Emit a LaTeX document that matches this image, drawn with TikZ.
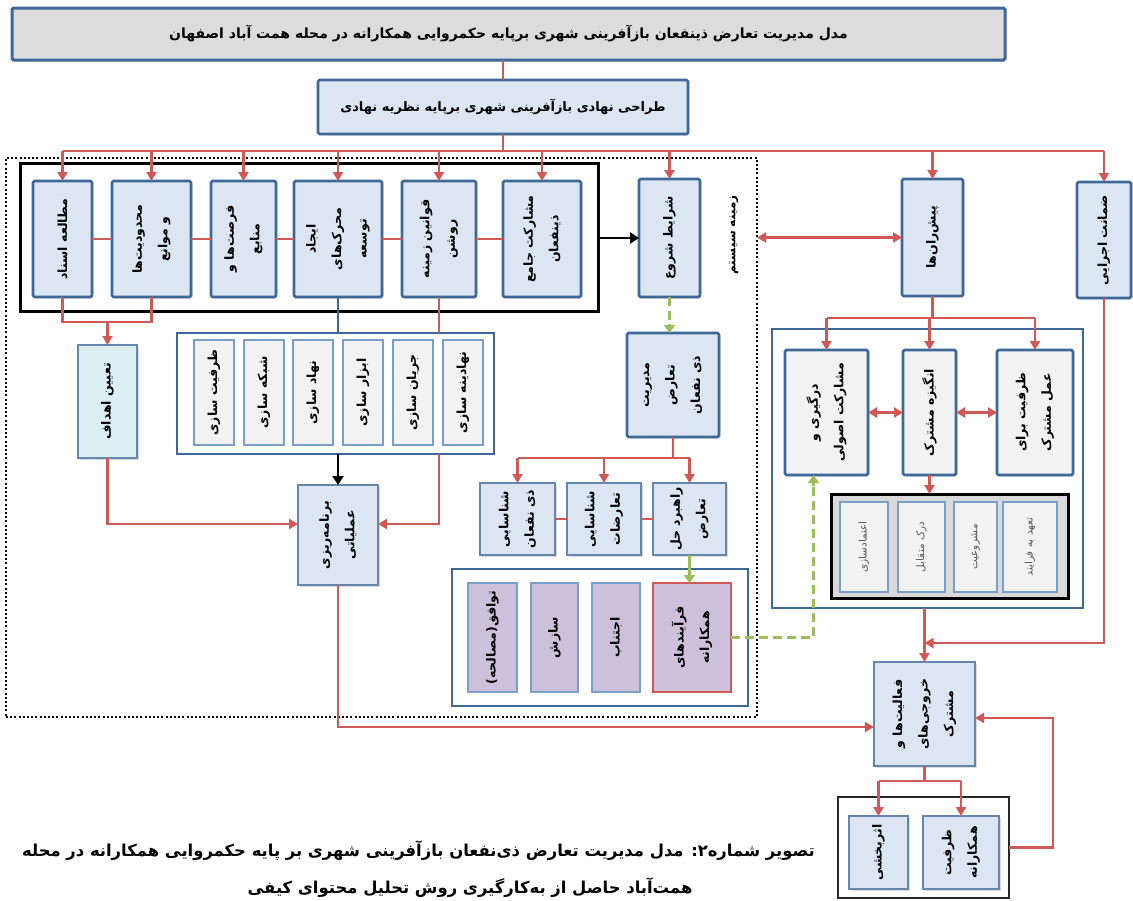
\documentclass[tikz,border=0pt]{standalone}
\usepackage{fontspec}
\usetikzlibrary{arrows.meta,calc,shadows}
\newfontfamily\fa[Script=Arabic]{DejaVu Sans}
\TeXXeTstate=1
\newcommand\rl[1]{\beginR #1\endR}
\definecolor{bbord}{RGB}{62,104,152}
\definecolor{tblue}{RGB}{120,158,204}
\definecolor{lblue}{RGB}{220,230,242}
\definecolor{lcyan}{RGB}{219,238,244}
\definecolor{lgray}{RGB}{242,242,242}
\definecolor{mgray}{RGB}{217,217,217}
\definecolor{tgray}{RGB}{220,220,220}
\definecolor{rred}{RGB}{208,88,86}
\definecolor{ggreen}{RGB}{155,190,90}
\definecolor{lpurple}{RGB}{204,192,218}
\tikzset{
 base/.style={inner sep=0pt, outer sep=0pt},
 box/.style={base, draw=bbord, line width=2.6pt, fill=lblue, rounded corners=1.5pt,
   drop shadow={shadow xshift=1.5pt, shadow yshift=-1.5pt, fill=black!40, opacity=0.35}},
 mbox/.style={base, draw=bbord!80, line width=1.8pt, fill=lblue,
   drop shadow={shadow xshift=1.5pt, shadow yshift=-1.5pt, fill=black!40, opacity=0.35}},
 gbox/.style={box, fill=lgray},
 sbox/.style={base, draw=tblue, line width=1.4pt, fill=lgray},
 pbox/.style={base, draw=tblue, line width=1.4pt, fill=lpurple},
 cont/.style={base, draw=bbord, line width=2.8pt, fill=white},
 txt/.style={base, font=\fa\bfseries\fontsize{12.5}{25.5}\selectfont, rotate=90, align=center},
 stxt/.style={base, font=\fa\fontsize{10.5}{13}\selectfont, text=black!65, rotate=90, align=center},
 htxt/.style={base, font=\fa\bfseries\fontsize{14}{17}\selectfont},
 rline/.style={draw=rred, line width=2.2pt},
 rarr/.style={rline, -{Triangle[length=9pt,width=10pt]}},
 dbl/.style={rline, {Triangle[length=9pt,width=10pt]}-{Triangle[length=9pt,width=10pt]}},
 karr/.style={draw=black, line width=2.6pt, -{Triangle[length=9pt,width=11pt]}},
 garr/.style={draw=ggreen, line width=2.8pt, -{Triangle[length=8pt,width=11pt]}},
 gdash/.style={draw=ggreen, line width=2.8pt, dash pattern=on 9pt off 5pt},
}
\newcommand\mybox[8][txt]{%
 \node[#7, minimum width={(#5-#3)*1pt}, minimum height={(#6-#4)*1pt}] (#2) at ({(#3+#5)/2},{(#4+#6)/2}) {};
 \node[#1] (#2t) at (#2.center) {#8};}
\begin{document}
\begin{tikzpicture}[x=1pt,y=-1pt]
\useasboundingbox (0,0) rectangle (1133,900);
% frames
\node[base, draw=black, line width=2.4pt, dash pattern=on 2pt off 2.2pt, minimum width=751pt, minimum height=559pt] (dfr) at (381.5,437.5) {};
\node[base, draw=black, line width=3pt, minimum width=578pt, minimum height=148pt] (frame) at (309,237) {};
% title
\mybox[htxt]{title}{12}{8}{1005}{60}{box, fill=tgray, line width=3pt}{\rl{مدل مدیریت تعارض ذینفعان بازآفرینی شهری برپایه حکمروایی همکارانه در محله همت آباد اصفهان}}
\mybox[htxt, font=\fa\bfseries\fontsize{13}{16}\selectfont]{design}{318}{80}{688}{134}{box}{\rl{طراحی نهادی بازآفرینی شهری برپایه نظریه نهادی}}
% top row
\mybox{s1}{33}{181}{92}{297}{box}{\rl{مطالعه اسناد}}
\mybox{s2}{112}{181}{191}{297}{box}{\rl{محدودیت‌ها}\\\rl{و موانع}}
\mybox{s3}{211}{181}{276}{297}{box}{\rl{فرصت‌ها و}\\\rl{منابع}}
\mybox{s4}{294}{181}{382}{297}{box}{\rl{ایجاد}\\\rl{محرک‌های}\\\rl{توسعه}}
\mybox{s5}{402}{181}{476}{297}{box}{\rl{قوانین زمینه}\\\rl{روشن}}
\mybox{s6}{503}{181}{581}{297}{box}{\rl{مشارکت جامع}\\\rl{ذینفعان}}
\mybox{start}{639}{179}{700}{297}{box}{\rl{شرایط شروع}}
\node[txt, font=\fa\bfseries\fontsize{12}{14}\selectfont] (sys) at (734,235) {\rl{زمینه سیستم}};
\mybox{drivers}{902}{179}{963}{296}{box}{\rl{پیش‌ران‌ها}}
\mybox{guarantee}{1077}{182}{1131}{298}{box}{\rl{ضمانت اجرایی}}
% left part
\mybox{goals}{78}{345}{137}{458}{mbox, fill=lcyan}{\rl{تعیین اهداف}}
\mybox[base]{inner}{177}{333}{494}{454}{cont}{}
\mybox{i1}{194}{340}{234}{445}{sbox}{\rl{ظرفیت سازی}}
\mybox{i2}{244}{340}{284}{445}{sbox}{\rl{شبکه سازی}}
\mybox{i3}{293}{340}{333}{445}{sbox}{\rl{نهاد سازی}}
\mybox{i4}{343}{340}{383}{445}{sbox}{\rl{ابزار سازی}}
\mybox{i5}{393}{340}{433}{445}{sbox}{\rl{جریان سازی}}
\mybox{i6}{443}{340}{483}{445}{sbox}{\rl{نهادینه سازی}}
\mybox{plan}{298}{485}{378}{585}{mbox}{\rl{برنامه‌ریزی}\\\rl{عملیاتی}}
% conflict management
\mybox{mgmt}{627}{333}{719}{437}{box}{\rl{مدیریت}\\\rl{تعارض}\\\rl{ذی نفعان}}
\mybox{r1}{480}{483}{555}{555}{mbox}{\rl{شناسایی}\\\rl{ذی نفعان}}
\mybox{r2}{567}{483}{641}{555}{mbox}{\rl{شناسایی}\\\rl{تعارضات}}
\mybox{r3}{653}{483}{726}{555}{mbox}{\rl{راهبرد حل}\\\rl{تعارض}}
\mybox[base]{pcont}{452}{569}{748}{706}{cont}{}
\mybox{p1}{468}{583}{517}{692}{pbox}{\rl{توافق(مصالحه)}}
\mybox{p2}{531}{583}{578}{692}{pbox}{\rl{سازش}}
\mybox{p3}{592}{583}{640}{692}{pbox}{\rl{اجتناب}}
\mybox{p4}{653}{583}{731}{692}{pbox, draw=rred, line width=2.6pt}{\rl{فرآیندهای}\\\rl{همکارانه}}
% right part
\mybox[base]{rcont}{772}{329}{1083}{608}{cont}{}
\mybox{q1}{785}{350}{868}{475}{gbox}{\rl{درگیری و}\\\rl{مشارکت اصولی}}
\mybox{q2}{903}{350}{956}{475}{gbox}{\rl{انگیزه مشترک}}
\mybox{q3}{997}{350}{1073}{475}{gbox}{\rl{ظرفیت برای}\\\rl{عمل مشترک}}
\mybox[base]{gcont}{831}{494}{1068}{598}{base, draw=black, line width=3pt, fill=mgray}{}
\mybox[stxt]{g1}{840}{502}{888}{592}{sbox}{\rl{اعتمادسازی}}
\mybox[stxt]{g2}{898}{502}{945}{592}{sbox}{\rl{درک متقابل}}
\mybox[stxt]{g3}{954}{502}{997}{592}{sbox}{\rl{مشروعیت}}
\mybox[stxt]{g4}{1003}{502}{1057}{592}{sbox}{\rl{تعهد به فرایند}}
\mybox{act}{874}{662}{975}{766}{mbox}{\rl{فعالیت‌ها و}\\\rl{خروجی‌های}\\\rl{مشترک}}
\mybox[base]{bcont}{838}{797}{1009}{898}{base, draw=black!85, line width=1.6pt, fill=white}{}
\mybox{o1}{849}{816}{908}{889}{mbox}{\rl{اثربخشی}}
\mybox{o2}{923}{816}{999}{889}{mbox}{\rl{ظرفیت}\\\rl{همکارانه}}
% caption
\node[htxt, font=\fa\bfseries\fontsize{16.4}{19}\selectfont, anchor=east] (cap1) at (815,851) {\rl{تصویر شماره۲: مدل مدیریت تعارض ذی‌نفعان بازآفرینی شهری بر پایه حکمروایی همکارانه در محله}};
\node[htxt, font=\fa\bfseries\fontsize{16.4}{19}\selectfont] (cap2) at (470,888) {\rl{همت‌آباد حاصل از به‌کارگیری روش تحلیل محتوای کیفی}};
% ---- connectors ----
\coordinate (bus) at (0,151);
\draw[rline] (design.north) -- (design.north |- title.south);
\draw[rline] (design.south) -- (design.south |- bus);
\draw[rline] (s1.north |- bus) -- (guarantee.north |- bus);
\foreach \n in {s1,s2,s3,s4,s5,s6,start,drivers,guarantee}
  \draw[rarr] (\n.north |- bus) -- (\n.north);
\draw[rline] (s1.east) -- (s2.west);
\draw[rline] (s2.east) -- (s3.west);
\draw[rline] (s3.east) -- (s4.west);
\draw[rline] (s4.east) -- (s5.west);
\draw[rline] (s5.east) -- (s6.west);
\draw[karr] (frame.east |- start.west) -- (start.west);
\draw[dbl] (dfr.east |- drivers.west) -- (drivers.west);
% goals
\coordinate (j1) at ($(goals.north)+(0,-23)$);
\draw[rline] (s1.south) |- (j1) -| (s2.south);
\draw[rarr] (j1) -- (goals.north);
\draw[draw=bbord, line width=2.2pt] (inner.north -| s4.south) -- (s4.south);
\draw[karr] (plan.north |- inner.south) -- (plan.north);
\draw[rarr] (goals.south) |- ($(plan.west)+(0,-11)$);
\draw[rline] (s5.south) -- (s5.south |- inner.north);
\draw[rarr] (s5.south |- inner.south) |- ($(plan.east)+(0,-11)$);
\draw[rarr] (plan.south) |- ($(act.west)+(0,13)$);
% conflict management
\draw[gdash] (start.south) -- ($(start.south |- mgmt.north)+(0,-8)$);
\draw[garr] ($(start.south |- mgmt.north)+(0,-9)$) -- (start.south |- mgmt.north);
\coordinate (j2) at ($(mgmt.south)+(0,21)$);
\draw[rline] (mgmt.south) -- (j2);
\draw[rline] (r1.north |- j2) -- (r3.north |- j2);
\foreach \n in {r1,r2,r3} \draw[rarr] (\n.north |- j2) -- (\n.north);
\draw[rline] (r1.east) -- (r2.west);
\draw[rline] (r2.east) -- (r3.west);
\draw[garr] (r3.south) -- (r3.south |- p4.north);
\draw[gdash] (p4.east) -| ($(q1.south)+(-13,10)$);
\draw[garr] ($(q1.south)+(-13,11)$) -- ($(q1.south)+(-13,0)$);
% right part
\coordinate (j3) at ($(drivers.south)+(0,22)$);
\draw[rline] (drivers.south) -- (j3);
\draw[rline] (q1.north |- j3) -- (q3.north |- j3);
\foreach \n in {q1,q2,q3} \draw[rarr] (\n.north |- j3) -- (\n.north);
\draw[dbl] (q1.east) -- (q2.west);
\draw[dbl] (q2.east) -- (q3.west);
\draw[rarr] (q2.south) -- (q2.south |- gcont.north);
\draw[rarr] (act.north |- rcont.south) -- (act.north);
\draw[rarr] (guarantee.south) |- ($(act.north)+(0,-19)$);
\coordinate (j4) at ($(act.south)+(0,15)$);
\draw[rline] (act.south) -- (j4);
\draw[rline] (o1.north |- j4) -- (o2.north |- j4);
\foreach \n in {o1,o2} \draw[rarr] (\n.north |- j4) -- (\n.north);
\draw[rarr] (bcont.east) -- ++(44,0) |- ($(act.east)+(0,4)$);
\end{tikzpicture}
\end{document}
